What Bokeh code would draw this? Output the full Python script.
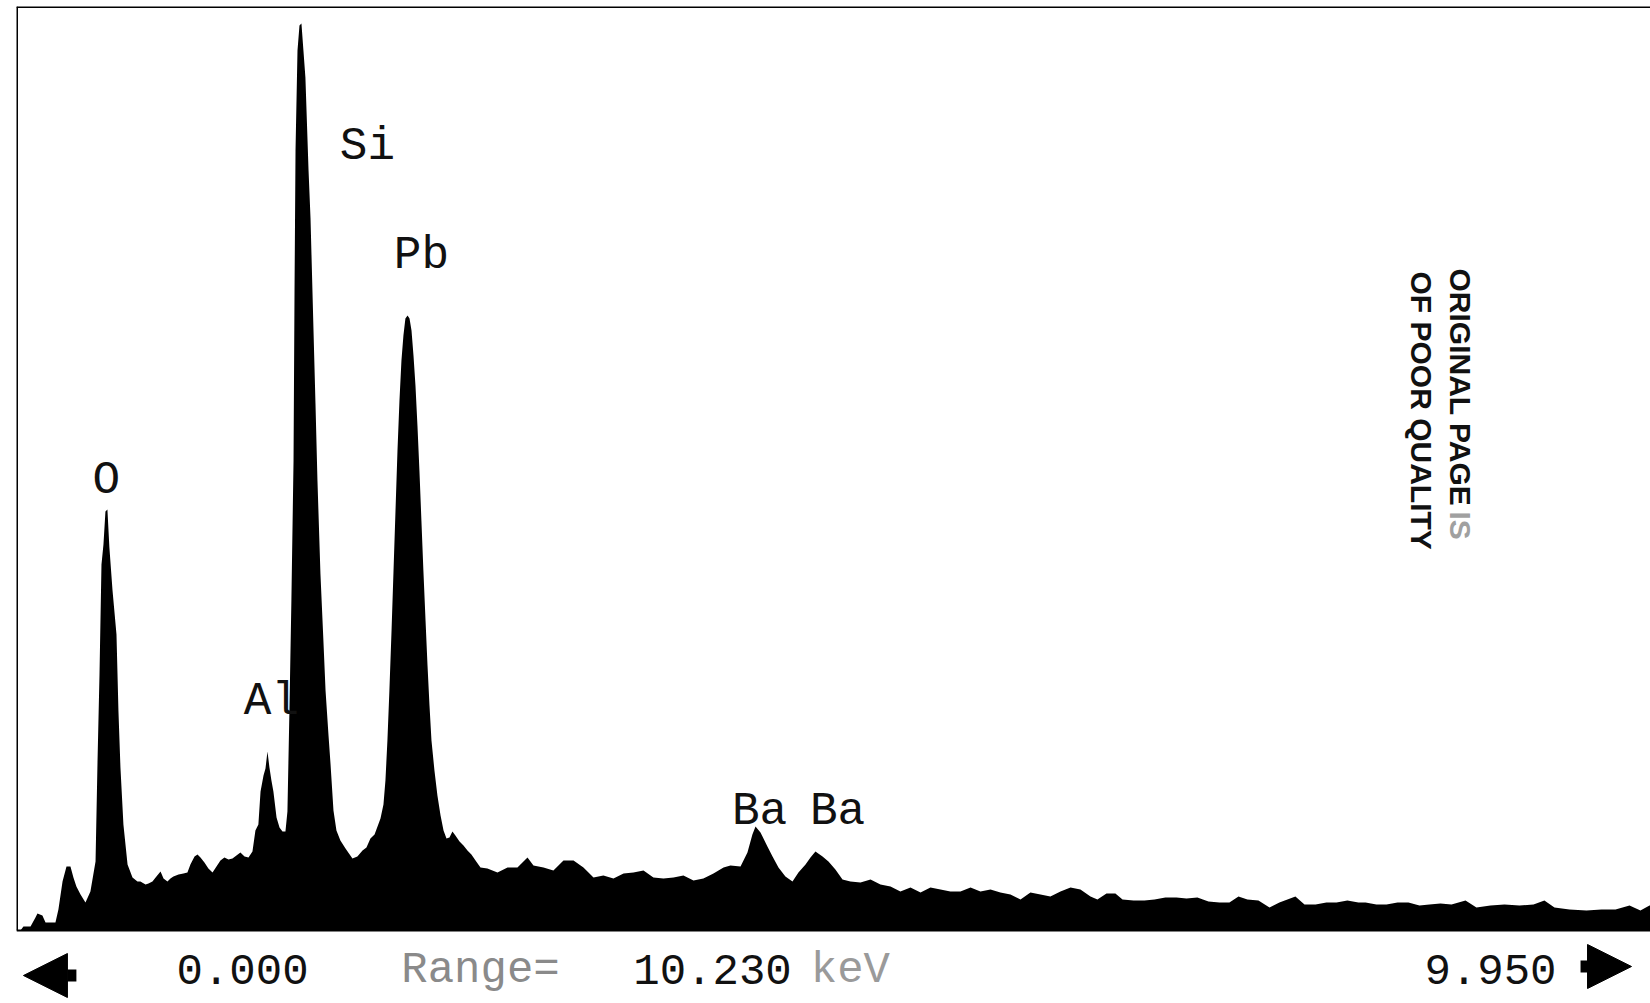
import math
from bokeh.plotting import figure
from bokeh.models import Span, Label, Arrow, NormalHead, Range1d, ColumnDataSource
from bokeh.embed import file_html
from bokeh.resources import INLINE
from bokeh.core.properties import value

# ---------------- data ----------------
energy_keV = [
    0.000, 0.006, 0.024, 0.067, 0.097, 0.109, 0.139, 0.158, 0.218, 0.236,
    0.261, 0.285, 0.309, 0.327, 0.345, 0.370, 0.400, 0.430, 0.461, 0.473,
    0.485, 0.497, 0.509, 0.521, 0.533, 0.545, 0.564, 0.588, 0.600, 0.612,
    0.630, 0.655, 0.685, 0.715, 0.733, 0.764, 0.782, 0.806, 0.830, 0.855,
    0.873, 0.897, 0.915, 0.933, 0.964, 0.994, 1.018, 1.036, 1.061, 1.079,
    1.097, 1.121, 1.145, 1.170, 1.194, 1.218, 1.242, 1.267, 1.291, 1.315,
    1.339, 1.364, 1.388, 1.412, 1.430, 1.448, 1.461, 1.479, 1.491, 1.503,
    1.515, 1.527, 1.539, 1.558, 1.576, 1.594, 1.612, 1.624, 1.636, 1.648,
    1.661, 1.667, 1.673, 1.685, 1.697, 1.709, 1.721, 1.733, 1.752, 1.764,
    1.782, 1.794, 1.806, 1.824, 1.842, 1.855, 1.873, 1.885, 1.903, 1.921,
    1.945, 1.976,
    2.018, 2.048, 2.079, 2.103, 2.127, 2.152, 2.170, 2.188, 2.206, 2.218,
    2.230, 2.242, 2.255, 2.267, 2.279, 2.291, 2.303, 2.315, 2.327, 2.339,
    2.352, 2.364, 2.376, 2.388, 2.400, 2.412, 2.424, 2.436, 2.448, 2.461,
    2.473, 2.485, 2.497, 2.515, 2.533, 2.552, 2.570, 2.588, 2.606, 2.624,
    2.642, 2.667, 2.691, 2.715, 2.739, 2.764, 2.794,
    2.836, 2.897, 2.958, 3.018, 3.079, 3.115, 3.176, 3.236, 3.297, 3.358,
    3.418, 3.479, 3.539, 3.600, 3.661, 3.721, 3.782, 3.842, 3.903, 3.964,
    4.024, 4.085, 4.145, 4.206, 4.267, 4.309, 4.370, 4.412, 4.442, 4.461,
    4.491, 4.533, 4.564, 4.600, 4.642, 4.685, 4.721, 4.764, 4.794, 4.824,
    4.867, 4.903, 4.945, 4.988, 5.036, 5.097, 5.158, 5.218, 5.279, 5.339,
    5.400, 5.461, 5.521, 5.582, 5.642, 5.703, 5.764, 5.824, 5.885, 5.945,
    6.006, 6.067, 6.127, 6.188, 6.248, 6.309, 6.370, 6.430, 6.491, 6.533,
    6.588, 6.642, 6.685, 6.752, 6.818, 6.879, 6.945, 7.012, 7.073, 7.139,
    7.206, 7.273, 7.333, 7.388, 7.442, 7.509, 7.576, 7.636, 7.733, 7.788,
    7.855, 7.921, 7.982, 8.048, 8.115, 8.158, 8.224, 8.285, 8.352, 8.418,
    8.485, 8.545, 8.612, 8.679, 8.764, 8.830, 8.915, 9.000, 9.091, 9.176,
    9.242, 9.303, 9.394, 9.497, 9.588, 9.673, 9.758, 9.824, 9.879, 9.950,
]

counts = [
    0, 0, 40, 40, 130, 170, 150, 80, 80, 210,
    490, 640, 640, 530, 440, 360, 280, 390, 690, 1690,
    2560, 3660, 3860, 4190, 4210, 3830, 3400, 2960, 2190, 1630,
    1060, 660, 530, 490, 490, 460, 470, 490, 540, 590,
    520, 490, 520, 540, 560, 570, 580, 660, 740, 760,
    730, 680, 620, 580, 640, 700, 730, 710, 720, 750,
    780, 740, 730, 790, 1000, 1060, 1390, 1550, 1620, 1790,
    1630, 1500, 1390, 1130, 1030, 990, 990, 1190, 2190, 3300,
    4700, 6400, 7800, 8800, 9050, 9070, 8800, 8530, 7600, 7120,
    6000, 5270, 4500, 3570, 2900, 2400, 1950, 1670, 1200, 1000,
    900, 820,
    720, 740, 800, 830, 920, 960, 1040, 1120, 1260, 1500,
    1900, 2400, 3000, 3600, 4200, 4800, 5300, 5700, 5950, 6120,
    6150, 6120, 6000, 5750, 5450, 5050, 4600, 4100, 3600, 3100,
    2650, 2250, 1900, 1600, 1350, 1150, 1000, 920, 930, 990,
    950, 890, 850, 800, 760, 700, 630,
    620, 580, 630, 630, 730, 650, 630, 600, 700, 700,
    630, 530, 550, 520, 570, 580, 600, 530, 520, 530,
    550, 500, 520, 570, 630, 650, 640, 780, 960, 1040,
    980, 840, 740, 630, 540, 490, 580, 660, 730, 790,
    740, 690, 610, 510, 490, 480, 510, 460, 440, 390,
    430, 380, 430, 410, 390, 390, 430, 390, 410, 380,
    360, 310, 380, 360, 340, 390, 430, 410, 340, 310,
    370, 370, 310, 300, 300, 310, 330, 330, 320, 330,
    290, 280, 280, 340, 310, 300, 230, 280, 340, 260,
    260, 280, 280, 300, 280, 280, 260, 260, 280, 280,
    250, 260, 270, 260, 300, 230, 250, 260, 250, 260,
    300, 230, 210, 200, 210, 210, 250, 200, 250, 230,
]
assert len(energy_keV) == len(counts)

peak_labels = ["O", "Al", "Si", "Pb", "Ba", "Ba"]
label_keV = [0.527, 1.527, 2.109, 2.436, 4.485, 4.958]
label_counts = [4350, 2140, 7690, 6600, 1040, 1040]

# readout line under the spectrum (cursor, range, end of display)
readout_texts = ["0.000", "Range=", "10.230", "keV", "9.950"]
readout_colors = ["#111111", "#8a8a8a", "#111111", "#9a9a9a", "#111111"]
readout_keV = [1.352, 2.794, 4.200, 5.036, 8.915]

# stamp printed across the scan
stamp_texts = ["ORIGINAL PAGE", "IS", "OF POOR QUALITY"]
stamp_colors = ["#111111", "#a0a0a0", "#111111"]
stamp_keV = [8.733, 8.733, 8.497]
stamp_counts = [6620, 4190, 6590]

# ---------------- layout constants ----------------
x_start, x_end = -0.018, 9.885
y_top, y_bottom = 9240, -700
readout_y = -390

p = figure(width=1650, height=1000, output_backend="svg", toolbar_location=None,
           x_range=Range1d(x_start, x_end), y_range=Range1d(y_bottom, y_top),
           min_border_left=16, min_border_right=0, min_border_top=6,
           min_border_bottom=0)
p.xaxis.visible = False
p.yaxis.visible = False
p.xgrid.visible = False
p.ygrid.visible = False
p.outline_line_color = None
p.background_fill_color = "white"
p.border_fill_color = "white"

# spectrum
p.varea(x=energy_keV, y1=0, y2=counts, fill_color="black")

# frame of the analyser display: left edge, top edge, baseline
p.segment(x0=[x_start], y0=[0], x1=[x_start], y1=[y_top], line_color="black", line_width=3)
p.add_layout(Span(location=y_top, dimension="width", line_color="black", line_width=3))
p.add_layout(Span(location=0, dimension="width", line_color="black", line_width=2))

# peak labels
src = ColumnDataSource(dict(x=label_keV, y=label_counts, t=peak_labels))
p.text(x="x", y="y", text="t", source=src, text_font=value("Liberation Mono"),
       text_font_size="46px", text_align="center", text_baseline="alphabetic",
       y_offset=-15, text_color="#111111")

# readout line
rsrc = ColumnDataSource(dict(x=readout_keV, y=[readout_y] * len(readout_keV),
                             t=readout_texts, c=readout_colors))
p.text(x="x", y="y", text="t", text_color="c", source=rsrc,
       text_font=value("Liberation Mono"), text_font_size="44px",
       text_align="center", text_baseline="middle")

# cursor arrows
p.add_layout(Arrow(x_start=0.345, y_start=-450, x_end=0.024, y_end=-450,
                   line_width=12, line_color="black",
                   end=NormalHead(size=44, fill_color="black", line_color="black")))
p.add_layout(Arrow(x_start=9.461, y_start=-360, x_end=9.770, y_end=-360,
                   line_width=12, line_color="black",
                   end=NormalHead(size=44, fill_color="black", line_color="black")))

# rotated stamp
ssrc = ColumnDataSource(dict(x=stamp_keV, y=stamp_counts, t=stamp_texts, c=stamp_colors))
p.text(x="x", y="y", text="t", text_color="c", source=ssrc, angle=-math.pi / 2,
       text_font=value("Liberation Sans"), text_font_style="bold",
       text_font_size="30px", text_align="left", text_baseline="middle")

open("out.html", "w").write(file_html(p, INLINE))
